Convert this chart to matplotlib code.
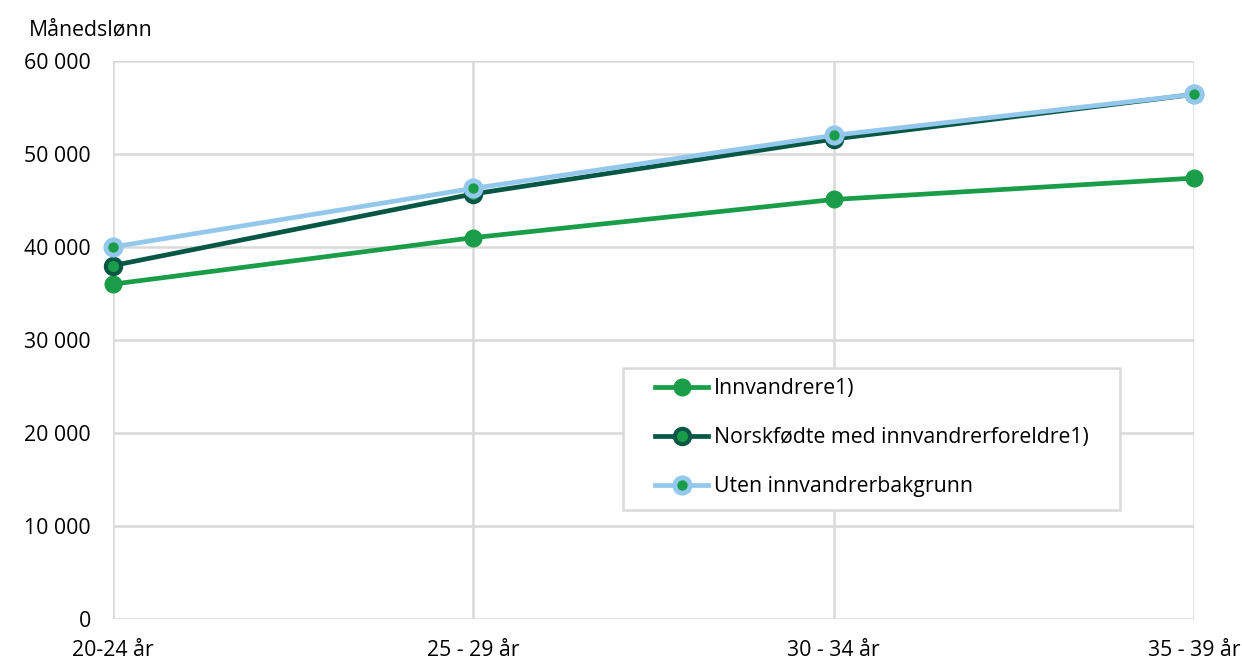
import numpy as np
import matplotlib
matplotlib.use("Agg")
import matplotlib.pyplot as plt
from matplotlib.patches import Rectangle

plt.rcParams['font.family'] = ['Open Sans', 'DejaVu Sans']

categories = ["20-24 år", "25 - 29 år", "30 - 34 år", "35 - 39 år"]
innvandrere = [36000, 41000, 45100, 47400]
norskfodte = [38000, 45700, 51600, 56400]
uten = [40000, 46300, 52000, 56400]
yticks = [0, 10000, 20000, 30000, 40000, 50000, 60000]

green = "#1a9d49"
dark = "#075745"
light = "#93c8ec"
fs = 15.3

fig = plt.figure(figsize=(12.42, 6.62), dpi=100)
ax = fig.add_axes([0.091, 0.065, 0.8705, 0.843])
x = np.arange(len(categories))

ax.plot(x, innvandrere, color=green, lw=3.4, marker="o", ms=12,
        mfc=green, mec=green, label="Innvandrere1)", zorder=3, clip_on=False)
ax.plot(x, norskfodte, color=dark, lw=3.4, marker="o", ms=11,
        mfc=green, mec=dark, mew=3, label="Norskfødte med innvandrerforeldre1)",
        zorder=3, clip_on=False)
ax.plot(x, uten, color=light, lw=3.4, marker="o", ms=11,
        mfc=green, mec=light, mew=3.5, label="Uten innvandrerbakgrunn",
        zorder=4, clip_on=False)

ax.set_xlim(0, 3)
ax.set_ylim(0, 60000)
ax.set_xticks(x)
ax.set_xticklabels(categories)
ax.set_yticks(yticks)
ax.set_yticklabels([f"{v:,}".replace(",", " ") for v in yticks])
ax.tick_params(length=0, labelsize=fs)
ax.tick_params(axis="y", pad=16)
ax.tick_params(axis="x", pad=15)
ax.grid(True, color="#d9d9d9", lw=1.8)
for s in ax.spines.values():
    s.set_visible(False)

fig.text(0.023, 0.955, "Månedslønn", fontsize=fs, va="center")

# legend frame drawn separately to get wider side padding
ax.add_patch(Rectangle((0.472, 0.195), 0.4595, 0.255, transform=ax.transAxes,
                       facecolor="white", edgecolor="#d9d9d9", lw=1.8, zorder=5))
leg = ax.legend(loc="center", bbox_to_anchor=(0.7017, 0.3244), fontsize=fs,
                frameon=False, handlelength=2.5, handletextpad=0.25,
                labelspacing=1.32, borderpad=0, borderaxespad=0)
leg.set_zorder(6)

fig.savefig("out.png", dpi=100)
